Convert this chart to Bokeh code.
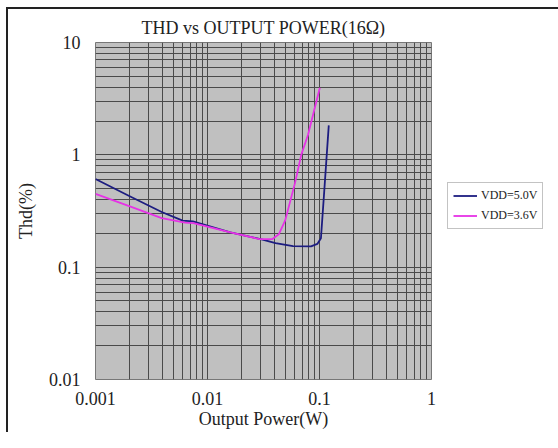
from bokeh.plotting import figure
from bokeh.models import FixedTicker, Legend, LegendItem
from bokeh.embed import file_html
from bokeh.resources import INLINE

# Data
blue_x = [0.001, 0.002, 0.0039, 0.006, 0.0074, 0.016, 0.031, 0.0405, 0.058, 0.084, 0.0956, 0.103, 0.11, 0.121]
blue_y = [0.61, 0.43, 0.31, 0.26, 0.256, 0.204, 0.176, 0.164, 0.154, 0.153, 0.161, 0.181, 0.46, 1.83]
mag_x = [0.001, 0.002, 0.0039, 0.0063, 0.0075, 0.016, 0.029, 0.038, 0.0433, 0.0494, 0.0603, 0.0689, 0.0789, 0.1007]
mag_y = [0.45, 0.35, 0.273, 0.249, 0.247, 0.204, 0.178, 0.178, 0.196, 0.261, 0.557, 1.01, 1.5, 3.96]
series_labels = ["VDD=5.0V", "VDD=3.6V"]

x_major = [0.001, 0.01, 0.1, 1]
x_labels = ["0.001", "0.01", "0.1", "1"]
y_major = [0.01, 0.1, 1, 10]
y_labels = ["0.01", "0.1", "1", "10"]

def minors(decades):
    return [m * d for d in decades[:-1] for m in range(2, 10)]

FONT = "Liberation Serif"
TXT = "#222222"

p = figure(x_axis_type="log", y_axis_type="log", x_range=(0.001, 1), y_range=(0.01, 10),
           frame_width=336, frame_height=337,
           min_border_left=95, min_border_right=111, min_border_top=42, min_border_bottom=53,
           output_backend="svg", toolbar_location=None)

p.background_fill_color = "#c0c0c0"
p.border_fill_alpha = 0
p.outline_line_color = "#777777"
p.outline_line_width = 1

p.title.text = "THD vs OUTPUT POWER(16Ω)"
p.title.align = "center"
p.title.text_font = FONT
p.title.text_font_size = "18px"
p.title.text_font_style = "normal"
p.title.text_color = TXT

p.xaxis.ticker = FixedTicker(ticks=x_major, minor_ticks=minors(x_major))
p.yaxis.ticker = FixedTicker(ticks=y_major, minor_ticks=minors(y_major))
p.xaxis.major_label_overrides = {v: l for v, l in zip(x_major, x_labels)}
p.yaxis.major_label_overrides = {v: l for v, l in zip(y_major, y_labels)}

for ax in (p.xaxis, p.yaxis):
    ax.axis_line_color = None
    ax.major_tick_line_color = None
    ax.minor_tick_line_color = None
    ax.major_tick_out = 0
    ax.major_tick_in = 0
    ax.minor_tick_out = 0
    ax.minor_tick_in = 0
    ax.major_label_text_font = FONT
    ax.major_label_text_font_size = "18px"
    ax.major_label_text_color = TXT
    ax.axis_label_text_font = FONT
    ax.axis_label_text_font_size = "18px"
    ax.axis_label_text_font_style = "normal"
    ax.axis_label_text_color = TXT

p.xaxis.axis_label = "Output Power(W)"
p.yaxis.axis_label = "Thd(%)"
p.xaxis.major_label_standoff = 12
p.yaxis.major_label_standoff = 15
p.xaxis.axis_label_standoff = 1
p.yaxis.axis_label_standoff = 10

for g in (p.xgrid, p.ygrid):
    g.grid_line_color = "#4a4a4a"
    g.grid_line_width = 1
    g.minor_grid_line_color = "#4a4a4a"
    g.minor_grid_line_width = 1

r1 = p.line(blue_x, blue_y, line_color="#1c1c80", line_width=1.8)
r2 = p.line(mag_x, mag_y, line_color="#e632e6", line_width=1.8)

legend = Legend(items=[LegendItem(label=series_labels[0], renderers=[r1]),
                       LegendItem(label=series_labels[1], renderers=[r2])],
                location=(16, 150))
legend.label_text_font = FONT
legend.label_text_font_size = "12px"
legend.label_text_color = TXT
legend.glyph_width = 24
legend.glyph_height = 15
legend.label_standoff = 4
legend.label_height = 15
legend.spacing = 5
legend.padding = 5
legend.margin = 0
legend.border_line_color = "#888888"
legend.background_fill_color = "white"
legend.background_fill_alpha = 1
p.add_layout(legend, "right")

p.styles = {
    "background-color": "white",
    "background-image": "linear-gradient(#222222, #222222), linear-gradient(#222222, #222222)",
    "background-size": "2px 100%, 100% 2px",
    "background-position": "6px 7px, 6px 7px",
    "background-repeat": "no-repeat",
}

open("out.html", "w").write(file_html(p, INLINE))
